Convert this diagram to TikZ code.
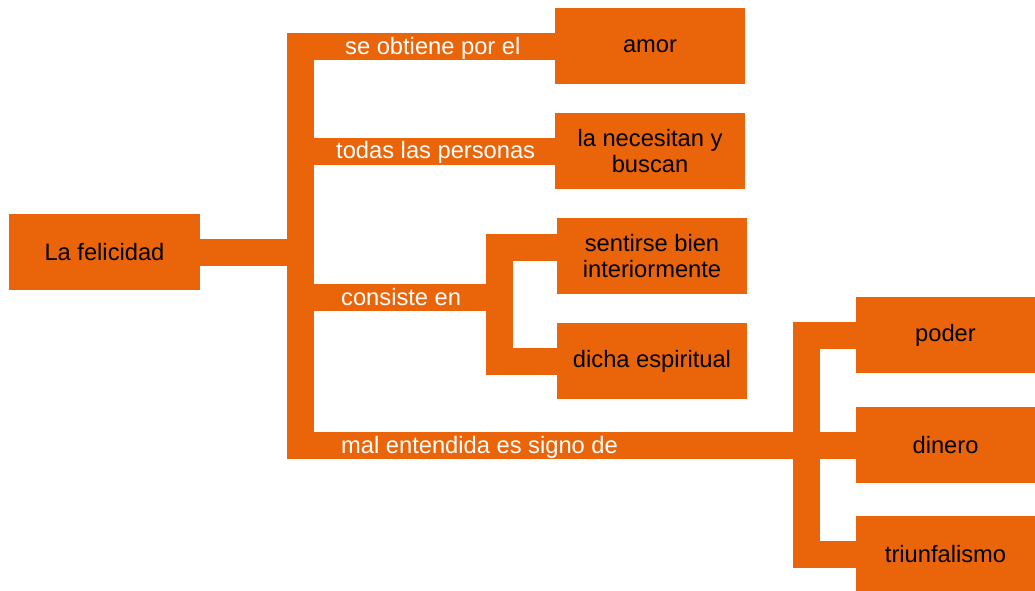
\documentclass[tikz,border=0pt]{standalone}
\usepackage{fontspec}
\setmainfont{Liberation Sans}
\definecolor{orng}{RGB}{234,101,10}
\tikzset{
 box/.style={fill=orng, draw=none, minimum width=190pt, minimum height=76pt, inner sep=0pt, align=center, font=\fontsize{23.7}{26}\selectfont, text=black},
 bar/.style={draw=orng, line width=27pt, line join=miter, line cap=butt},
 lbl/.style={text=white, inner sep=0pt, font=\fontsize{23.7}{26}\selectfont, anchor=base west},
}
\begin{document}
\begin{tikzpicture}[x=1pt,y=-1pt]
\useasboundingbox (0,0) rectangle (1035,590);
% boxes
\node[box, minimum width=191pt] (fel) at (104.5,252) {La felicidad};
\node[box] (amor) at (650,46) {amor};
\node[box] (nec) at (650,151) {la necesitan y\\buscan};
\node[box] (sent) at (652,256) {sentirse bien\\interiormente};
\node[box] (dicha) at (652,361) {dicha espiritual};
\node[box, minimum width=179pt] (poder) at (945.5,335) {poder};
\node[box, minimum width=179pt] (dinero) at (945.5,445) {dinero};
\node[box, minimum width=179pt] (triun) at (945.5,554) {triunfalismo};
% junctions
\coordinate (t) at (300,0);
\coordinate (j4) at (300,445);
\coordinate (j3) at (300,297.5);
\coordinate (s1) at (499,297.5);
\coordinate (s1b) at (499,361);
\coordinate (s2) at (806.5,554);
% connectors
\draw[bar] (amor.west) -| (j4) -- (dinero.west);
\draw[bar] (fel.east) -- (fel.east -| t);
\draw[bar] (nec.west) -- (nec.west -| t);
\draw[bar] (j3) -- (s1);
\draw[bar] ([yshift=8.5pt]sent.west) -| (s1b) -- (dicha.west);
\draw[bar] (poder.west) -| (s2) -- (triun.west);
% labels
\node[lbl] (l1) at (345,54) {se obtiene por el};
\node[lbl] (l2) at (336,158) {todas las personas};
\node[lbl] (l3) at (341,305.5) {consiste en};
\node[lbl] (l4) at (341,453) {mal entendida es signo de};
\end{tikzpicture}
\end{document}
